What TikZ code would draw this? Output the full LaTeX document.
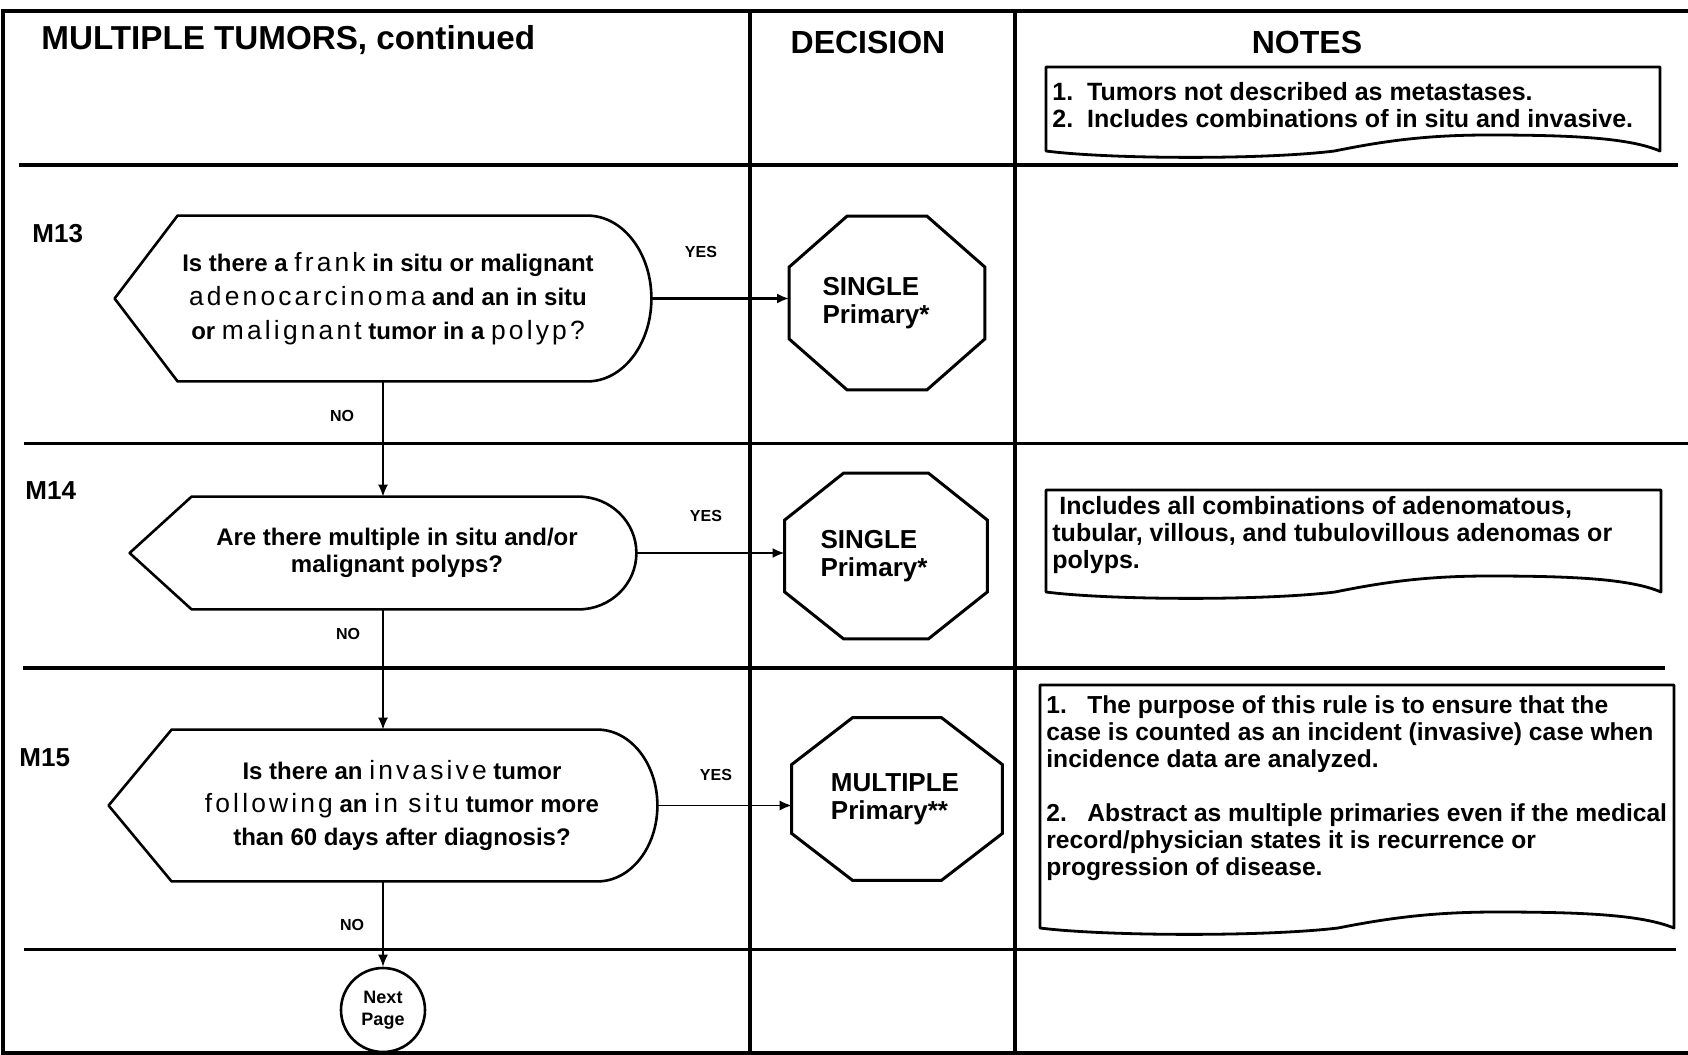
\documentclass[tikz,border=0pt]{standalone}
\usepackage{fontspec}
\setmainfont{Liberation Sans}
\newfontfamily\widefont[LetterSpace=12]{Liberation Sans}
\usetikzlibrary{calc,arrows.meta}
\tikzstyle{grid-line} = [line width=1.6pt]
\tikzstyle{head-text} = [font=\bfseries\fontsize{16}{18}\selectfont, inner sep=0pt]
\tikzstyle{rule-id} = [font=\bfseries\fontsize{13}{15}\selectfont, inner sep=0pt, anchor=west]
\tikzstyle{q-box} = [inner sep=0pt]
\tikzstyle{q-text} = [inner sep=0pt, align=center, font=\bfseries\fontsize{12}{17}\selectfont]
\tikzstyle{q-line} = [line width=1.3pt, line join=round]
\tikzstyle{oct-box} = [inner sep=0pt]
\tikzstyle{oct-text} = [inner sep=0pt, align=left, font=\bfseries\fontsize{13}{14}\selectfont]
\tikzstyle{oct-line} = [line width=1.5pt, line join=miter]
\tikzstyle{note-text} = [inner sep=0pt, anchor=west, align=left, font=\bfseries\fontsize{12.5}{13.5}\selectfont]
\tikzstyle{torn-line} = [line width=1.4pt, line join=round]
\tikzstyle{yn-label} = [font=\bfseries\fontsize{8}{9}\selectfont, inner sep=0pt]
\tikzstyle{end-circle} = [draw, circle, line width=1.3pt, minimum size=42pt, inner sep=0pt, align=center, font=\bfseries\fontsize{9}{10.8}\selectfont]
\tikzstyle{flow} = [line width=0.8pt, -{Latex[length=6pt,width=5pt]}]
\tikzstyle{yes-flow} = [line width=1.3pt, -{Latex[length=6pt,width=5pt]}]
\newcommand{\lightword}[1]{{\widefont\mdseries\fontsize{13.2}{16}\selectfont #1}}
% decision outline: pointed left end, rounded right end
\newcommand{\qoutline}[3]{%
  \draw[q-line] (#1.west) -- ($(#1.north west)+(#2,0)$) -- ($(#1.north east)+(-#3,0)$)
    .. controls ($(#1.north east)+(-0.4477*#3,0)$) and ($(#1.east)!0.5523!(#1.north east)$) .. (#1.east)
    .. controls ($(#1.east)!0.5523!(#1.south east)$) and ($(#1.south east)+(-0.4477*#3,0)$) .. ($(#1.south east)+(-#3,0)$)
    -- ($(#1.south west)+(#2,0)$) -- cycle;}
\newcommand{\octoutline}[3]{%
  \draw[oct-line] ($(#1.north west)+(#2,0)$) -- ($(#1.north east)+(-#2,0)$) -- ($(#1.north east)+(0,#3)$)
    -- ($(#1.south east)+(0,-#3)$) -- ($(#1.south east)+(-#2,0)$) -- ($(#1.south west)+(#2,0)$)
    -- ($(#1.south west)+(0,-#3)$) -- ($(#1.north west)+(0,#3)$) -- cycle;}
% note frame with torn bottom edge
\newcommand{\tornframe}[4]{%
  \pgfmathsetmacro{\tw}{#3-#1}
  \draw[torn-line] (#1,#4) -- (#1,#2) -- (#3,#2) -- (#3,#4)
    .. controls (#3-0.05*\tw,#4-13) and (#3-0.14*\tw,#4-16) .. (#3-0.28*\tw,#4-16)
    .. controls (#3-0.38*\tw,#4-16) and (#3-0.45*\tw,#4-10) .. (#3-0.53*\tw,#4)
    .. controls (#3-0.65*\tw,#4+9) and (#3-0.9*\tw,#4+8) .. (#1,#4) -- cycle;}

\begin{document}
\begin{tikzpicture}[x=0.5pt, y=-0.5pt]
\useasboundingbox (0,0) rectangle (1688,1055);

% frame and rows
\draw[grid-line] (1688,11) -- (3,11) -- (3,1053) -- (1688,1053);
\draw[grid-line] (750,11) -- (750,1053);
\draw[grid-line] (1015,11) -- (1015,1053);
\draw[grid-line] (19,165) -- (1678,165);
\draw[grid-line] (24,443.5) -- (1688,443.5);
\draw[grid-line] (23,668) -- (1665,668);
\draw[grid-line] (24,949.5) -- (1676,949.5);

\node[head-text, anchor=west, font=\bfseries\fontsize{16.6}{18}\selectfont] (title) at (41,40) {MULTIPLE TUMORS, continued};
\node[head-text] (decision) at (868,42) {DECISION};
\node[head-text] (notes) at (1307,42) {NOTES};

\node[rule-id] (m13) at (32,234) {M13};
\node[rule-id] (m14) at (25,491) {M14};
\node[rule-id] (m15) at (19,758) {M15};

% questions
\node[q-box, minimum width=268pt, minimum height=82.5pt] (q13) at (383,298.5) {};
\qoutline{q13}{63}{64}
\node[q-text] (q13-text) at ($(q13.center)+(5,0)$) {Is there a \lightword{frank} in situ or malignant\\
  \lightword{adenocarcinoma} and an in situ\\
  or \lightword{malignant} tumor in a \lightword{polyp?}};

\node[q-box, minimum width=253pt, minimum height=56pt] (q14) at (383,553) {};
\qoutline{q14}{62}{58}
\node[q-text, font=\bfseries\fontsize{12}{13.5}\selectfont] (q14-text) at ($(q14.center)+(14,0)$) {Are there multiple in situ and/or\\malignant polyps?};

\node[q-box, minimum width=274pt, minimum height=75.5pt] (q15) at (383,805.5) {};
\qoutline{q15}{63}{60}
\node[q-text, font=\bfseries\fontsize{12}{16.5}\selectfont] (q15-text) at ($(q15.center)+(19,0)$) {Is there an \lightword{invasive} tumor\\
  \lightword{following} an \lightword{in situ} tumor more\\
  than 60 days after diagnosis?};

% decisions
\node[oct-box, minimum width=97.5pt, minimum height=86.5pt] (d13) at (887,303) {};
\octoutline{d13}{58}{51}
\node[oct-text] (d13-text) at ($(d13.center)+(-11,0)$) {SINGLE\\Primary*};

\node[oct-box, minimum width=101pt, minimum height=82.5pt] (d14) at (886,556) {};
\octoutline{d14}{59}{47}
\node[oct-text] (d14-text) at ($(d14.center)+(-12,0)$) {SINGLE\\Primary*};

\node[oct-box, minimum width=105pt, minimum height=81pt] (d15) at (897,799) {};
\octoutline{d15}{61}{47}
\node[oct-text] (d15-text) at ($(d15.center)+(-2,0)$) {MULTIPLE\\Primary**};

\node[end-circle] (np) at (383,1010) {Next\\Page};

% connectors
\draw[yes-flow] (q13.east) -- (q13.east -| d13.west);
\draw[yes-flow] (q14.east) -- (q14.east -| d14.west);
\draw[flow, line width=0.6pt] (q15.east) -- (q15.east -| d15.west);
\draw[flow] (q13.south) -- (q14.north);
\draw[flow] (q14.south) -- (q15.north);
\draw[flow] (q15.south) -- (np.north);

\node[yn-label] (yes13) at (701,252) {YES};
\node[yn-label] (yes14) at (706,516) {YES};
\node[yn-label] (yes15) at (716,775) {YES};
\node[yn-label] (no13) at (342,416) {NO};
\node[yn-label] (no14) at (348,634) {NO};
\node[yn-label] (no15) at (352,925) {NO};

% notes
\tornframe{1046}{67}{1660}{151}
\node[note-text] (note13) at (1052,105) {1.\ \ Tumors not described as metastases.\\2.\ \ Includes combinations of in situ and invasive.};
\tornframe{1046}{490}{1661}{592}
\node[note-text] (note14) at (1052,535) {\ Includes all combinations of adenomatous,\\tubular, villous, and tubulovillous adenomas or\\polyps.};
\tornframe{1040}{685}{1674}{928}
\node[note-text, font=\bfseries\fontsize{12.3}{13.5}\selectfont] (note15) at (1046,788) {1.\ \ \ The purpose of this rule is to ensure that the\\case is counted as an incident (invasive) case when\\incidence data are analyzed.\\[13.5pt]2.\ \ \ Abstract as multiple primaries even if the medical\\record/physician states it is recurrence or\\progression of disease.};
\end{tikzpicture}
\end{document}
